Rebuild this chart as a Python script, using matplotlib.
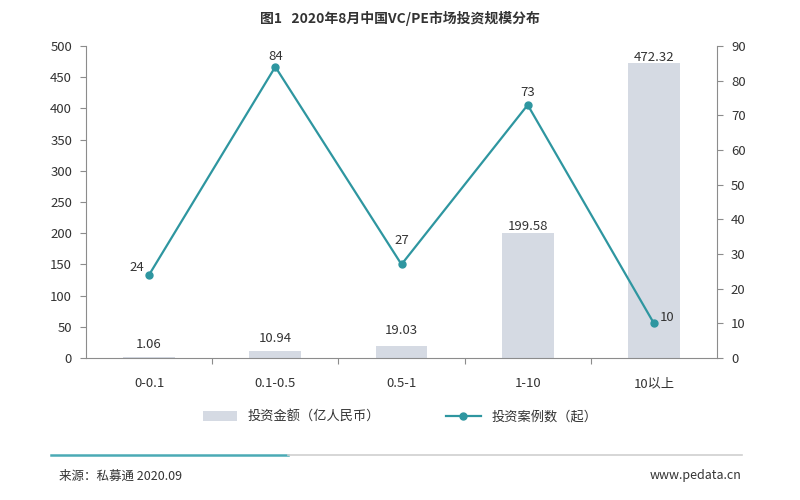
import matplotlib
matplotlib.use("Agg")
import matplotlib.pyplot as plt
from matplotlib.lines import Line2D
from matplotlib.patches import Patch

plt.rcParams['font.family'] = ['Noto Sans CJK SC', 'DejaVu Sans']

categories = ["0-0.1", "0.1-0.5", "0.5-1", "1-10", "10以上"]
amounts = [1.06, 10.94, 19.03, 199.58, 472.32]
counts = [24, 84, 27, 73, 10]
left_ticks = [0, 50, 100, 150, 200, 250, 300, 350, 400, 450, 500]
right_ticks = [0, 10, 20, 30, 40, 50, 60, 70, 80, 90]

bar_color = "#D5DAE3"
line_color = "#2E96A0"
axis_color = "#8C8C8C"
text_color = "#333333"

fig = plt.figure(figsize=(8, 5), dpi=100)
ax = fig.add_axes([86/800, 1-358/500, (717-86)/800, (358-46)/500])
ax2 = ax.twinx()

x = list(range(len(categories)))
ax.bar(x, amounts, width=0.41, color=bar_color, zorder=1)
ax.set_xlim(-0.5, len(categories)-0.5)
ax.set_ylim(0, 500)
ax.set_yticks(left_ticks)
ax2.set_ylim(0, 90)
ax2.set_yticks(right_ticks)

ax.set_xticks([i + 0.5 for i in x[:-1]], minor=False)
ax.set_xticklabels([])
ax.set_xticks(x, minor=True)
ax.set_xticklabels(categories, minor=True)
ax.tick_params(axis='x', which='major', length=4, color=axis_color, direction='out')
ax.tick_params(axis='x', which='minor', length=0, labelsize=9.5, labelcolor=text_color, pad=14)

for a in (ax, ax2):
    a.spines["top"].set_visible(False)
    a.spines["left"].set_color(axis_color)
    a.spines["right"].set_color(axis_color)
    a.spines["bottom"].set_color(axis_color)
ax.spines["right"].set_visible(False)
ax2.spines["left"].set_visible(False)
ax2.spines["bottom"].set_visible(False)
ax.tick_params(axis='y', length=4, color=axis_color, labelsize=9.5, labelcolor=text_color, pad=6)
ax2.tick_params(axis='y', length=4, color=axis_color, labelsize=9.5, labelcolor=text_color, pad=6)

px = 72 / 100  # pixels -> points
bar_label_gap = [13, 13, 16, 7, 6]
for i, v in enumerate(amounts):
    ax.annotate(f"{v:.2f}", (i, v), xytext=(0, bar_label_gap[i] * px), textcoords="offset points",
                ha="center", va="center", fontsize=9.5, color=text_color)

ax2.plot(x, counts, color=line_color, lw=1.6, marker="o", ms=5, zorder=3)
line_label_off = [(-12, 7), (0, 10), (0, 24), (0, 12), (13, 6)]
for i, v in enumerate(counts):
    dx, dy = line_label_off[i]
    ax2.annotate(str(v), (i, v), xytext=(dx * px, dy * px), textcoords="offset points",
                 ha="center", va="center", fontsize=9.5, color=text_color)

fig.text(0.5, 1-18/500, "图1   2020年8月中国VC/PE市场投资规模分布", ha="center", va="center",
         fontsize=10, fontweight="bold", color=text_color)

handles = [Patch(facecolor=bar_color, edgecolor="none"),
           Line2D([0], [0], color=line_color, lw=1.6, marker="o", ms=5)]
labels = ["投资金额（亿人民币）", "投资案例数（起）"]
fig.legend(handles, labels, loc="center", bbox_to_anchor=(0.5, 1-417/500), ncol=2, frameon=False,
           fontsize=9.5, columnspacing=5, handlelength=2.6, handleheight=0.7, labelcolor=text_color)

fig.add_artist(Line2D([51/800, 288/800], [1-455/500]*2, color="#4AAAB5", lw=1.8))
fig.add_artist(Line2D([288/800, 742/800], [1-455/500]*2, color="#D0D0D0", lw=1.2))
fig.text(59/800, 1-476/500, "来源：私募通 2020.09", ha="left", va="center", fontsize=9, color=text_color)
fig.text(742/800, 1-476/500, "www.pedata.cn", ha="right", va="center", fontsize=9, color=text_color)

fig.savefig("out.png", dpi=100)
